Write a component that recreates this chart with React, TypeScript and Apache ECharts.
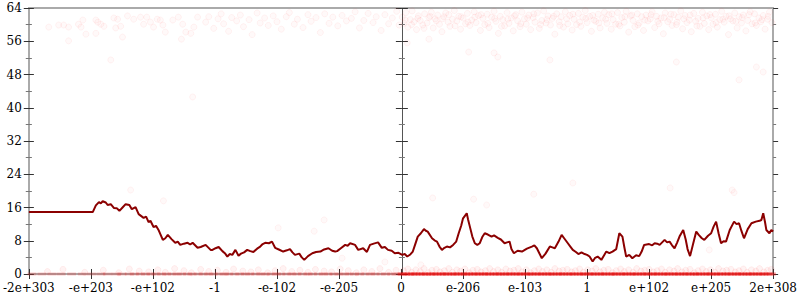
import React, { useEffect, useRef } from "react";
import * as echarts from "echarts";

const xLabels = ["-2e+303", "-e+203", "-e+102", "-1", "-e-102", "-e-205", "0", "e-206", "e-103", "1", "e+102", "e+205", "2e+308"];

const linePts: [number, number][] = [
  [0, 14.9], [1.03, 14.9], [1.08, 16.5], [1.13, 17.3], [1.16, 17.0], [1.19, 17.5], [1.24, 17.2], [1.27, 16.6], [1.32, 16.8], [1.37, 15.9],
  [1.42, 15.8], [1.46, 15.2], [1.51, 16.0], [1.56, 16.8], [1.62, 16.6], [1.66, 15.6], [1.72, 16.1], [1.77, 14.4], [1.85, 13.5],
  [1.89, 13.8], [1.93, 12.5], [1.96, 12.8], [2.01, 11.3], [2.05, 11.6], [2.09, 10.6], [2.16, 8.2], [2.2, 8.6], [2.24, 9.4], [2.3, 8.4],
  [2.36, 7.5], [2.4, 7.8], [2.44, 7.0], [2.5, 7.3], [2.56, 7.5], [2.6, 7.1], [2.64, 7.5], [2.72, 6.3], [2.77, 6.5], [2.85, 7.0],
  [2.89, 6.4], [2.93, 5.8], [2.96, 5.8], [3.01, 6.2], [3.06, 6.5], [3.12, 5.5], [3.16, 5.0], [3.2, 4.2], [3.24, 4.8], [3.28, 4.6],
  [3.33, 5.8], [3.38, 4.4], [3.42, 4.9], [3.47, 5.2], [3.52, 5.8], [3.57, 5.5], [3.62, 5.3], [3.68, 6.1], [3.73, 6.6], [3.77, 7.2],
  [3.81, 7.5], [3.87, 7.4], [3.92, 7.8], [3.97, 6.3], [4.03, 5.9], [4.1, 5.4], [4.16, 5.7], [4.21, 6.0], [4.25, 5.2], [4.29, 4.6],
  [4.36, 4.9], [4.4, 4.0], [4.44, 3.4], [4.5, 4.3], [4.57, 5.0], [4.63, 5.3], [4.7, 5.4], [4.76, 5.9], [4.83, 6.2], [4.89, 5.6],
  [4.94, 5.4], [4.97, 5.5], [5.03, 6.2], [5.1, 7.0], [5.14, 6.8], [5.18, 7.4], [5.26, 7.0], [5.31, 5.8], [5.39, 6.2], [5.45, 5.3],
  [5.5, 7.0], [5.56, 7.3], [5.63, 7.6], [5.69, 6.3], [5.74, 6.5], [5.79, 5.8], [5.85, 5.6], [5.9, 5.0], [5.96, 5.1], [6.02, 4.6],
  [6.06, 4.8], [6.1, 4.2], [6.15, 4.7], [6.19, 5.4], [6.23, 7.2], [6.27, 9.0], [6.32, 9.8], [6.37, 10.8], [6.4, 10.4], [6.43, 10.2],
  [6.5, 8.6], [6.54, 8.1], [6.58, 7.8], [6.62, 6.6], [6.66, 5.8], [6.7, 6.3], [6.74, 6.6], [6.79, 6.4], [6.84, 7.0], [6.89, 7.8],
  [6.93, 9.8], [6.97, 11.6], [7.0, 13.4], [7.03, 14.0], [7.06, 14.6], [7.08, 13.2], [7.11, 11.4], [7.15, 9.0], [7.19, 7.4],
  [7.23, 7.0], [7.27, 7.4], [7.31, 8.9], [7.35, 9.8], [7.4, 9.5], [7.46, 9.0], [7.5, 9.3], [7.56, 8.7], [7.61, 8.3], [7.67, 7.4],
  [7.71, 7.6], [7.75, 7.8], [7.78, 6.0], [7.82, 5.0], [7.88, 5.6], [7.95, 5.4], [8.03, 6.1], [8.11, 6.6], [8.15, 6.9], [8.19, 6.2],
  [8.23, 5.0], [8.27, 3.8], [8.33, 4.9], [8.4, 6.6], [8.44, 6.4], [8.48, 6.2], [8.54, 7.8], [8.59, 9.4], [8.63, 8.6], [8.69, 7.4],
  [8.73, 6.6], [8.77, 5.8], [8.82, 5.3], [8.86, 4.8], [8.91, 5.2], [8.96, 4.8], [9.0, 4.6], [9.04, 4.2], [9.09, 3.0], [9.13, 3.9],
  [9.17, 4.2], [9.23, 3.4], [9.27, 4.4], [9.31, 5.4], [9.36, 5.0], [9.41, 5.4], [9.47, 6.0], [9.52, 9.8], [9.57, 9.0], [9.6, 6.5],
  [9.63, 4.2], [9.68, 4.6], [9.73, 3.8], [9.79, 4.5], [9.84, 4.3], [9.88, 5.4], [9.92, 7.0], [10.0, 7.2], [10.05, 6.9], [10.09, 7.4],
  [10.13, 7.3], [10.17, 7.0], [10.21, 7.6], [10.25, 8.2], [10.29, 7.6], [10.33, 7.8], [10.37, 6.9], [10.41, 6.2], [10.45, 7.5],
  [10.49, 9.0], [10.55, 10.6], [10.59, 8.3], [10.62, 6.0], [10.66, 4.3], [10.71, 7.3], [10.76, 10.2], [10.8, 9.4], [10.85, 8.6],
  [10.89, 8.2], [10.95, 9.2], [11.0, 9.8], [11.04, 11.4], [11.08, 12.6], [11.12, 9.8], [11.16, 7.4], [11.2, 7.9], [11.24, 7.8],
  [11.3, 10.6], [11.37, 12.6], [11.41, 12.0], [11.45, 12.2], [11.49, 10.3], [11.53, 8.6], [11.59, 10.8], [11.65, 12.2],
  [11.72, 12.6], [11.78, 12.8], [11.81, 13.0], [11.84, 14.6], [11.87, 12.4], [11.89, 10.6], [11.94, 9.8], [11.97, 10.6], [12.0, 10.2],
];

const topPts: [number, number][] = [
  [0.32, 59.4], [0.48, 59.9], [0.56, 59.9], [0.64, 59.4], [0.8, 60.1], [0.84, 59.4], [0.87, 61.1], [0.64, 56.1], [0.92, 57.7],
  [1.08, 61.1], [1.11, 60.6], [1.16, 60.1], [1.21, 59.6], [1.08, 57.9], [1.37, 61.6], [1.43, 61.3], [1.4, 59.2], [1.48, 59.6],
  [1.51, 57.0], [1.59, 62.1], [1.69, 61.3], [1.8, 61.8], [1.85, 60.1], [1.9, 61.8], [1.96, 60.6], [2.01, 59.4], [2.07, 61.3],
  [2.12, 61.1], [2.16, 59.9], [2.2, 58.2], [2.32, 61.1], [2.41, 61.8], [2.48, 60.1], [2.53, 58.2], [2.61, 57.9], [2.66, 59.4],
  [2.72, 61.8], [2.46, 56.5], [2.85, 60.6], [2.9, 61.9], [2.98, 59.1], [3.05, 61.4], [3.1, 62.6], [3.14, 60.2], [3.22, 58.4],
  [3.27, 61.7], [3.35, 60.9], [3.41, 62.3], [3.46, 59.5], [3.55, 61.2], [3.6, 57.6], [3.68, 62.8], [3.73, 60.4], [3.8, 61.6],
  [3.86, 59.8], [3.94, 62.1], [4.0, 60.7], [4.07, 58.9], [4.15, 61.9], [4.2, 62.9], [4.28, 60.1], [4.33, 61.3], [4.42, 59.3],
  [4.5, 62.4], [4.55, 60.8], [4.63, 61.7], [4.7, 58.1], [4.77, 62.6], [4.84, 60.3], [4.9, 61.8], [4.98, 59.7], [5.05, 62.2],
  [5.12, 60.9], [5.2, 61.5], [5.26, 63.1], [5.33, 59.2], [5.4, 61.0], [5.47, 62.7], [5.55, 60.5], [5.6, 61.9], [5.68, 58.6],
  [5.74, 62.4], [5.8, 60.2], [5.86, 61.6], [5.93, 63.2], [5.97, 59.9],
  [6.02, 61.8], [6.05, 60.3], [6.08, 62.9], [6.11, 59.4], [6.15, 61.2], [6.18, 63.3], [6.21, 60.7], [6.25, 58.8], [6.28, 62.1],
  [6.31, 61.0], [6.35, 59.9], [6.38, 62.6], [6.42, 60.4], [6.45, 61.7], [6.49, 63.0], [6.52, 59.2], [6.55, 61.4], [6.59, 62.3],
  [6.62, 60.1], [6.66, 58.3], [6.69, 61.9], [6.72, 62.8], [6.76, 60.6], [6.79, 59.6], [6.83, 61.3], [6.86, 63.4], [6.9, 60.9],
  [6.93, 62.0], [6.96, 58.9], [7.0, 61.6], [7.04, 60.2], [7.07, 62.7], [7.11, 59.8], [7.14, 61.1], [7.18, 63.1], [7.21, 60.5],
  [7.25, 62.2], [7.28, 58.6], [7.32, 61.5], [7.35, 60.0], [7.39, 62.5], [7.42, 59.3], [7.46, 61.8], [7.5, 63.2], [7.53, 60.8],
  [7.57, 57.9], [7.6, 62.0], [7.64, 61.2], [7.67, 59.7], [7.71, 62.9], [7.74, 60.3], [7.78, 61.6], [7.81, 58.5], [7.85, 62.4],
  [7.88, 60.9], [7.92, 59.5], [7.95, 63.0], [7.99, 61.4], [8.02, 60.1], [8.06, 62.3], [8.09, 58.8], [8.13, 61.7], [8.16, 60.6],
  [8.2, 62.8], [8.23, 59.1], [8.27, 61.0], [8.3, 63.3], [8.34, 60.4], [8.37, 62.1], [8.41, 59.9], [8.44, 61.5], [8.48, 57.7],
  [8.51, 62.6], [8.55, 60.7], [8.58, 61.9], [8.62, 59.4], [8.65, 63.1], [8.69, 60.2], [8.72, 62.2], [8.76, 58.7], [8.79, 61.3],
  [8.83, 60.0], [8.86, 62.7], [8.9, 59.6], [8.93, 61.8], [8.97, 63.4], [9.0, 60.5], [9.04, 62.0], [9.07, 58.4], [9.11, 61.1],
  [9.14, 60.8], [9.18, 62.5], [9.21, 59.2], [9.25, 61.6], [9.28, 63.0], [9.32, 60.3], [9.35, 62.4], [9.39, 58.9], [9.42, 61.2],
  [9.46, 60.1], [9.49, 62.9], [9.53, 59.7], [9.56, 61.7], [9.6, 60.6], [9.63, 63.2], [9.67, 58.2], [9.7, 62.1], [9.74, 61.0],
  [9.77, 59.5], [9.81, 62.6], [9.84, 60.4], [9.88, 61.9], [9.91, 58.6], [9.95, 62.3], [9.98, 60.9], [10.02, 61.4], [10.05, 63.1],
  [10.09, 59.3], [10.12, 62.0], [10.16, 60.2], [10.19, 61.6], [10.23, 57.8], [10.26, 62.8], [10.3, 60.7], [10.33, 61.3],
  [10.37, 59.8], [10.4, 62.4], [10.44, 60.0], [10.47, 61.8], [10.51, 63.3], [10.54, 59.0], [10.58, 62.2], [10.61, 60.5],
  [10.65, 61.1], [10.68, 58.3], [10.72, 62.7], [10.75, 60.8], [10.79, 61.5], [10.82, 59.6], [10.86, 63.0], [10.89, 60.3],
  [10.93, 62.1], [10.96, 58.8], [11.0, 61.7], [11.03, 60.1], [11.07, 62.5], [11.1, 59.4], [11.14, 61.2], [11.17, 63.2],
  [11.21, 60.6], [11.24, 62.0], [11.28, 57.6], [11.31, 61.4], [11.35, 60.9], [11.38, 62.8], [11.42, 59.2], [11.45, 61.9],
  [11.49, 60.4], [11.52, 62.3], [11.56, 58.5], [11.59, 61.0], [11.63, 63.1], [11.66, 60.2], [11.7, 62.6], [11.73, 59.8],
  [11.77, 61.6], [11.8, 60.7], [11.84, 62.2], [11.87, 58.9], [11.91, 61.3], [11.94, 63.0], [11.98, 60.5],
  [6.07, 61.1], [6.17, 60.0], [6.27, 61.5], [6.37, 59.1], [6.47, 62.0], [6.57, 60.9], [6.67, 61.4], [6.77, 62.4], [6.87, 59.7],
  [6.97, 61.9], [7.08, 60.6], [7.19, 61.8], [7.29, 62.4], [7.4, 60.3], [7.51, 61.5], [7.62, 59.6], [7.72, 61.3], [7.83, 62.1],
  [7.93, 60.2], [8.04, 61.6], [8.14, 62.6], [8.25, 60.0], [8.35, 61.2], [8.46, 62.0], [8.56, 59.8], [8.67, 61.4], [8.77, 62.5],
  [8.88, 60.6], [8.98, 61.5], [9.09, 62.2], [9.19, 60.4], [9.3, 61.3], [9.4, 62.6], [9.51, 60.1], [9.61, 61.9], [9.72, 62.3],
  [9.82, 59.9], [9.93, 61.1], [10.03, 62.4], [10.14, 60.8], [10.24, 61.7], [10.35, 62.5], [10.45, 60.6], [10.56, 61.4],
  [10.66, 62.3], [10.77, 59.7], [10.87, 61.6], [10.98, 62.4], [11.08, 60.5], [11.19, 61.3], [11.29, 62.1], [11.4, 60.8],
  [11.5, 61.7], [11.61, 62.4], [11.71, 60.4], [11.82, 61.2], [11.92, 62.0],
];

const midPts: [number, number][] = [
  [1.64, 20.2], [2.17, 17.6], [2.64, 42.6], [1.32, 51.5], [4.02, 11.1], [4.6, 10.3], [4.76, 13.0], [5.05, 3.8], [5.74, 2.9],
  [6.32, 2.2], [6.51, 18.3], [7.17, 18.0], [7.38, 16.6], [8.14, 19.2], [8.77, 21.9], [10.34, 20.7], [11.34, 20.2],
  [11.37, 19.6], [10.97, 5.8], [10.44, 51.0], [11.73, 49.8], [11.84, 48.6], [11.45, 46.7], [7.09, 53.4], [7.5, 53.2],
  [7.56, 52.2], [8.4, 51.5], [6.45, 56.5], [6.1, 55.6],
];

const lowPts: [number, number][] = [
  [0.3, 0.6], [0.55, 1.1], [0.9, 0.4], [1.2, 0.9], [1.45, 0.3], [1.62, 1.2], [1.78, 0.7], [1.93, 0.5], [2.08, 1.0], [2.2, 0.4],
  [2.35, 1.3], [2.5, 0.8], [2.62, 0.3], [2.77, 1.1], [2.9, 0.6], [3.04, 0.9], [3.18, 0.4], [3.3, 1.2], [3.45, 0.7], [3.58, 0.5],
  [3.7, 1.0], [3.85, 0.3], [3.97, 0.8], [4.1, 1.3], [4.24, 0.6], [4.37, 0.9], [4.5, 0.4], [4.62, 1.1], [4.76, 0.7], [4.88, 0.5],
  [5.02, 1.2], [5.15, 0.8], [5.28, 0.3], [5.4, 1.0], [5.53, 0.6], [5.66, 1.3], [5.8, 0.4], [5.92, 0.9],
  [6.04, 0.8], [6.11, 1.2], [6.17, 0.4], [6.24, 1.0], [6.31, 0.6], [6.37, 1.3], [6.44, 0.3], [6.5, 0.9], [6.57, 1.1], [6.63, 0.5],
  [6.7, 0.8], [6.77, 1.3], [6.83, 0.4], [6.9, 1.0], [6.96, 0.7], [7.03, 1.2], [7.1, 0.3], [7.16, 0.9], [7.23, 1.1], [7.29, 0.5],
  [7.36, 0.8], [7.43, 1.3], [7.49, 0.6], [7.56, 1.0], [7.62, 0.4], [7.69, 1.2], [7.76, 0.7], [7.82, 0.9], [7.89, 1.3], [7.95, 0.5],
  [8.02, 1.0], [8.09, 0.3], [8.15, 0.8], [8.22, 1.2], [8.28, 0.6], [8.35, 1.0], [8.42, 0.4], [8.48, 1.3], [8.55, 0.7], [8.61, 0.9],
  [8.68, 1.1], [8.75, 0.5], [8.81, 0.8], [8.88, 1.2], [8.94, 0.4], [9.01, 1.0], [9.08, 0.7], [9.14, 1.3], [9.21, 0.5], [9.27, 0.9],
  [9.34, 1.1], [9.41, 0.3], [9.47, 0.8], [9.54, 1.2], [9.6, 0.6], [9.67, 1.0], [9.74, 0.4], [9.8, 1.3], [9.87, 0.7], [9.93, 0.9],
  [10.0, 1.1], [10.07, 0.5], [10.13, 0.8], [10.2, 1.2], [10.26, 0.4], [10.33, 1.0], [10.4, 0.7], [10.46, 1.3], [10.53, 0.5],
  [10.59, 0.9], [10.66, 1.1], [10.73, 0.3], [10.79, 0.8], [10.86, 1.2], [10.92, 0.6], [10.99, 1.0], [11.06, 0.4], [11.12, 1.3],
  [11.19, 0.7], [11.25, 0.9], [11.32, 1.1], [11.39, 0.5], [11.45, 0.8], [11.52, 1.2], [11.58, 0.4], [11.65, 1.0], [11.72, 0.7],
  [11.78, 1.3], [11.85, 0.5], [11.91, 0.9], [11.97, 1.1],
];

const zeroLeftX: number[] = [
  0.05, 0.21, 0.37, 0.52, 0.69, 0.86, 1.01, 1.16, 1.27, 1.41, 1.5, 1.62, 1.7, 1.8, 1.88, 1.97, 2.05, 2.14, 2.22, 2.31, 2.39,
  2.46, 2.56, 2.63, 2.73, 2.81, 2.9, 2.97, 3.07, 3.15, 3.22, 3.32, 3.4, 3.49, 3.56, 3.66, 3.74, 3.81, 3.91, 3.99, 4.06, 4.16,
  4.24, 4.32, 4.41, 4.5, 4.57, 4.67, 4.75, 4.82, 4.92, 5.0, 5.09, 5.16, 5.25, 5.33, 5.42, 5.51, 5.58, 5.68, 5.75, 5.85, 5.92, 6.0,
];

const zeroRightX: number[] = [
  6.02, 6.07, 6.14, 6.19, 6.24, 6.31, 6.36, 6.41, 6.48, 6.53, 6.58, 6.65, 6.7, 6.75, 6.82, 6.87, 6.92, 6.99, 7.04, 7.09, 7.16,
  7.21, 7.26, 7.33, 7.38, 7.43, 7.5, 7.55, 7.6, 7.67, 7.72, 7.77, 7.84, 7.89, 7.94, 8.01, 8.06, 8.11, 8.18, 8.23, 8.28, 8.35,
  8.4, 8.45, 8.52, 8.57, 8.62, 8.69, 8.74, 8.79, 8.86, 8.91, 8.96, 9.03, 9.08, 9.13, 9.2, 9.25, 9.3, 9.37, 9.42, 9.47, 9.54,
  9.59, 9.64, 9.71, 9.76, 9.81, 9.88, 9.93, 9.98, 10.05, 10.1, 10.15, 10.22, 10.27, 10.32, 10.39, 10.44, 10.49, 10.56, 10.61,
  10.66, 10.73, 10.78, 10.83, 10.9, 10.95, 11.0, 11.07, 11.12, 11.17, 11.24, 11.29, 11.34, 11.41, 11.46, 11.51, 11.58, 11.63,
  11.68, 11.75, 11.8, 11.85, 11.92, 11.97,
];

const FONT = "DejaVu Serif";

export default function App() {
  const ref = useRef<HTMLDivElement>(null);
  useEffect(() => {
    if (!ref.current) return;
    const chart = echarts.init(ref.current, null, { renderer: "svg" });
    const faint = {
      color: "rgba(255,0,0,0.03)",
      borderColor: "rgba(255,60,60,0.08)",
      borderWidth: 1,
    };
    const yBase = (extra: any) => ({
      type: "value",
      min: 0,
      max: 64,
      interval: 8,
      splitLine: { show: false },
      axisLabel: { show: false },
      axisLine: { show: false },
      axisTick: { show: true, length: 5, lineStyle: { color: "#333", width: 1 } },
      minorTick: { show: true, splitNumber: 2, length: 3, lineStyle: { color: "#777", width: 1 } },
      ...extra,
    });
    chart.setOption({
      animation: false,
      textStyle: { fontFamily: FONT },
      grid: { left: 28, right: 26, top: 8, bottom: 26, containLabel: false },
      xAxis: [
        {
          type: "value",
          min: 0,
          max: 12,
          interval: 1,
          position: "bottom",
          splitLine: { show: false },
          axisLine: { show: true, onZero: false, lineStyle: { color: "#aaa", width: 2 } },
          axisTick: { show: true, length: 5, lineStyle: { color: "#333" } },
          axisLabel: {
            formatter: (v: number) => xLabels[Math.round(v)] ?? "",
            fontFamily: FONT,
            fontSize: 12,
            color: "#000",
            margin: 8,
            showMinLabel: true,
            showMaxLabel: true,
          },
        },
        {
          type: "value",
          min: 0,
          max: 12,
          interval: 1,
          position: "bottom",
          splitLine: { show: false },
          axisLine: { show: false, onZero: false },
          axisTick: { show: true, inside: true, length: 5, lineStyle: { color: "#333" } },
          axisLabel: { show: false },
        },
        {
          type: "value",
          min: 0,
          max: 12,
          position: "top",
          splitLine: { show: false },
          axisLine: { show: true, onZero: false, lineStyle: { color: "#aaa", width: 2 } },
          axisTick: { show: false },
          axisLabel: { show: false },
        },
      ],
      yAxis: [
        yBase({
          position: "left",
          axisLine: { show: true, onZero: false, lineStyle: { color: "#aaa", width: 2 } },
          axisLabel: { show: true, fontFamily: FONT, fontSize: 12, color: "#000", margin: 7 },
        }),
        yBase({ position: "left", axisTick: { show: true, inside: true, length: 5, lineStyle: { color: "#333" } } }),
        yBase({
          position: "left",
          offset: -373,
          axisLine: { show: true, onZero: false, lineStyle: { color: "#555", width: 1 } },
          axisTick: { show: true, length: 6, lineStyle: { color: "#333" } },
        }),
        yBase({
          position: "left",
          offset: -373,
          axisTick: { show: true, inside: true, length: 6, lineStyle: { color: "#333" } },
        }),
        yBase({
          position: "right",
          axisLine: { show: true, onZero: false, lineStyle: { color: "#aaa", width: 2 } },
          axisTick: { show: true, length: 5, lineStyle: { color: "#333" } },
        }),
        yBase({
          position: "right",
          axisTick: { show: true, inside: true, length: 5, lineStyle: { color: "#333" } },
        }),
      ],
      series: [
        { type: "scatter", name: "top", data: topPts, symbol: "circle", symbolSize: 6, itemStyle: faint, z: 2 },
        { type: "scatter", name: "mid", data: midPts, symbol: "circle", symbolSize: 6, itemStyle: faint, z: 2 },
        {
          type: "scatter",
          name: "low",
          data: lowPts,
          symbol: "circle",
          symbolSize: 6,
          itemStyle: { color: "rgba(255,0,0,0.06)", borderColor: "rgba(255,60,60,0.1)", borderWidth: 1 },
          z: 2,
        },
        {
          type: "scatter",
          name: "zeroLeft",
          data: zeroLeftX.map((x) => [x, 0]),
          symbol: "rect",
          symbolSize: [9, 3],
          itemStyle: { color: "rgba(240,30,30,0.3)" },
          z: 3,
        },
        {
          type: "scatter",
          name: "zeroRight",
          data: zeroRightX.map((x) => [x, 0]),
          symbol: "rect",
          symbolSize: [9, 3],
          itemStyle: { color: "rgba(240,0,0,0.55)" },
          z: 3,
        },
        {
          type: "line",
          name: "line",
          data: linePts,
          showSymbol: false,
          symbol: "none",
          lineStyle: { color: "#8b0000", width: 2 },
          z: 5,
        },
      ],
    });
    return () => chart.dispose();
  }, []);
  return <div ref={ref} style={{ width: 800, height: 300, position: "absolute", left: 0, top: 0 }} />;
}
